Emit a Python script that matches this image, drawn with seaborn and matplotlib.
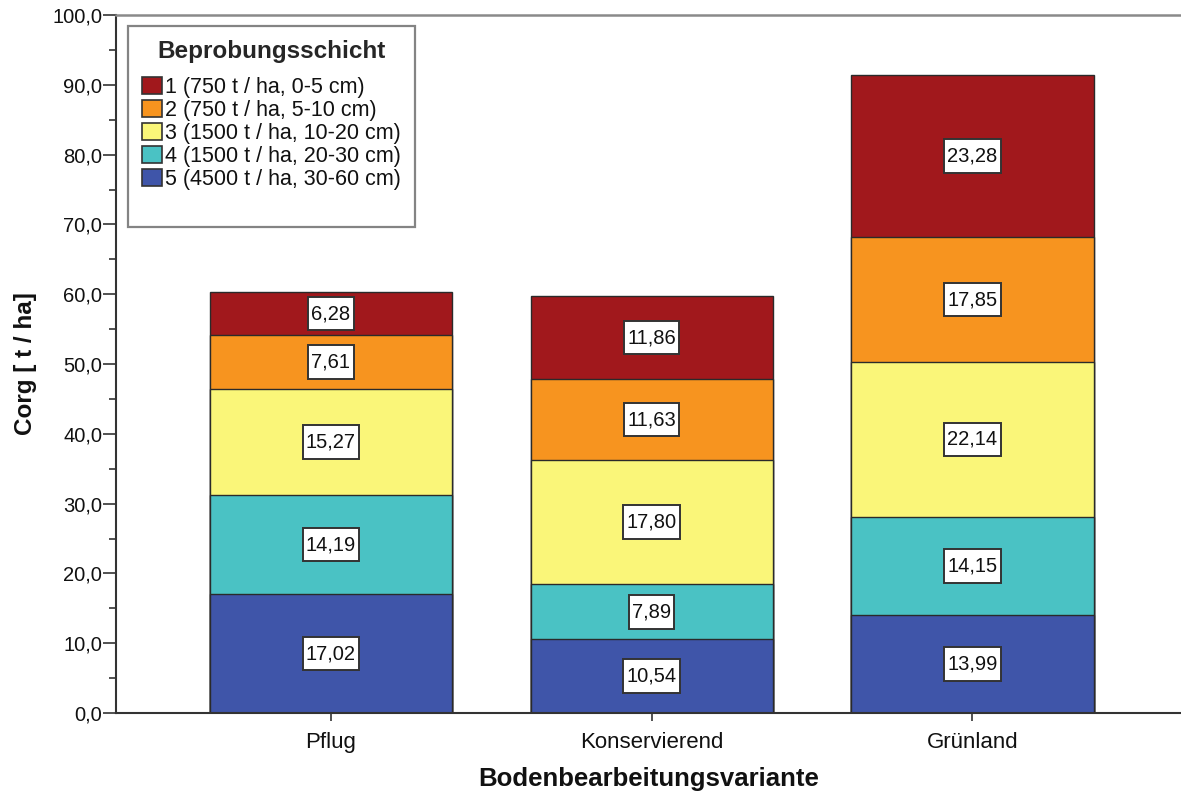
import matplotlib
matplotlib.use("Agg")
import matplotlib.pyplot as plt
import numpy as np
import pandas as pd
import seaborn as sns
from matplotlib.patches import Patch
from matplotlib.path import Path
from matplotlib.ticker import MultipleLocator, FuncFormatter

# data
varianten = ["Pflug", "Konservierend", "Grünland"]
schichten = [
    "1 (750 t / ha, 0-5 cm)",
    "2 (750 t / ha, 5-10 cm)",
    "3 (1500 t / ha, 10-20 cm)",
    "4 (1500 t / ha, 20-30 cm)",
    "5 (4500 t / ha, 30-60 cm)",
]
# layer values, bottom layer (5) first, up to layer 1
schicht5 = [17.02, 10.54, 13.99]
schicht4 = [14.19, 7.89, 14.15]
schicht3 = [15.27, 17.80, 22.14]
schicht2 = [7.61, 11.63, 17.85]
schicht1 = [6.28, 11.86, 23.28]
farben = ["#A1181C", "#F7941F", "#FAF679", "#4AC2C4", "#3F55A9"]

sns.set_style("white")
plt.rcParams["font.family"] = ["Liberation Sans", "DejaVu Sans"]

layers = [schicht5, schicht4, schicht3, schicht2, schicht1]
layer_colors = farben[::-1]
cum = np.cumsum(np.array(layers), axis=0)


def label_box(x0, y0, width, height, mutation_size):
    # rectangle with more padding top/bottom than left/right
    px = 0.16 * mutation_size
    py = 0.36 * mutation_size
    x0, x1 = x0 - px, x0 + width + px
    y0, y1 = y0 - py, y0 + height + py
    return Path([(x0, y0), (x1, y0), (x1, y1), (x0, y1), (x0, y0)], closed=True)


fig = plt.figure(figsize=(11.81, 7.94), dpi=100)
ax = fig.add_axes([116 / 1181, 1 - 713 / 794, 1 - 116 / 1181, (713 - 15) / 794])

# draw the tallest cumulative stack first, lower layers overlay it
for i in range(len(layers) - 1, -1, -1):
    df = pd.DataFrame({"variante": varianten, "wert": cum[i]})
    sns.barplot(data=df, x="variante", y="wert", color=layer_colors[i],
                width=0.755, edgecolor="#2a2a2a", linewidth=1.0,
                saturation=1, ax=ax, zorder=2)

# value boxes in each segment
for i, vals in enumerate(layers):
    bottoms = cum[i] - np.array(vals)
    for j, v in enumerate(vals):
        ax.text(j, bottoms[j] + v / 2, f"{v:.2f}".replace(".", ","),
                ha="center", va="center", fontsize=14.5, color="#111111",
                bbox=dict(boxstyle=label_box, fc="white", ec="#333333", lw=1.4),
                zorder=5)

ax.set_xlim(-0.67, 2.65)
ax.set_ylim(0, 100)
ax.yaxis.set_major_locator(MultipleLocator(10))
ax.yaxis.set_minor_locator(MultipleLocator(5))
ax.yaxis.set_major_formatter(FuncFormatter(lambda v, p: f"{v:.1f}".replace(".", ",")))
ax.tick_params(axis="y", which="major", length=9.5, width=1.2, color="#333333",
               labelsize=14.5, labelcolor="#111111", pad=0.5, left=True)
ax.tick_params(axis="y", which="minor", length=5, width=1.2, color="#333333", left=True)
ax.tick_params(axis="x", length=6, width=1.2, color="#333333", labelsize=16,
               labelcolor="#111111", pad=8, bottom=True)

for side in ["left", "bottom"]:
    ax.spines[side].set_color("#333333")
    ax.spines[side].set_linewidth(1.5)
ax.spines["top"].set_color("#8a8a8a")
ax.spines["top"].set_linewidth(1.8)
ax.spines["right"].set_visible(False)

ax.set_xlabel("Bodenbearbeitungsvariante", fontsize=18.5, fontweight="bold",
              labelpad=10, color="#111111")
ax.set_ylabel("Corg [ t / ha]", fontsize=17.5, fontweight="bold", labelpad=11,
              color="#111111")

# legend, with an empty last row for the extra space at the bottom
handles = [Patch(facecolor=c, edgecolor="#333333", lw=1.2) for c in farben]
handles.append(Patch(facecolor="none", edgecolor="none"))
labels = schichten + [""]
leg = ax.legend(handles, labels, title="Beprobungsschicht", loc="upper left",
                bbox_to_anchor=((128 - 116) / 1065, (713 - 26) / 698),
                fontsize=15.5, frameon=True, fancybox=False, edgecolor="#666666",
                handlelength=0.93, handleheight=0.88, handletextpad=0.15,
                labelspacing=0.08, borderpad=0.65, borderaxespad=0,
                title_fontproperties={"weight": "bold", "size": 17.5})
leg.get_frame().set_linewidth(1.6)
leg._legend_box.sep = 10
for t in leg.get_texts():
    t.set_color("#111111")

fig.savefig("out.png", dpi=100)
